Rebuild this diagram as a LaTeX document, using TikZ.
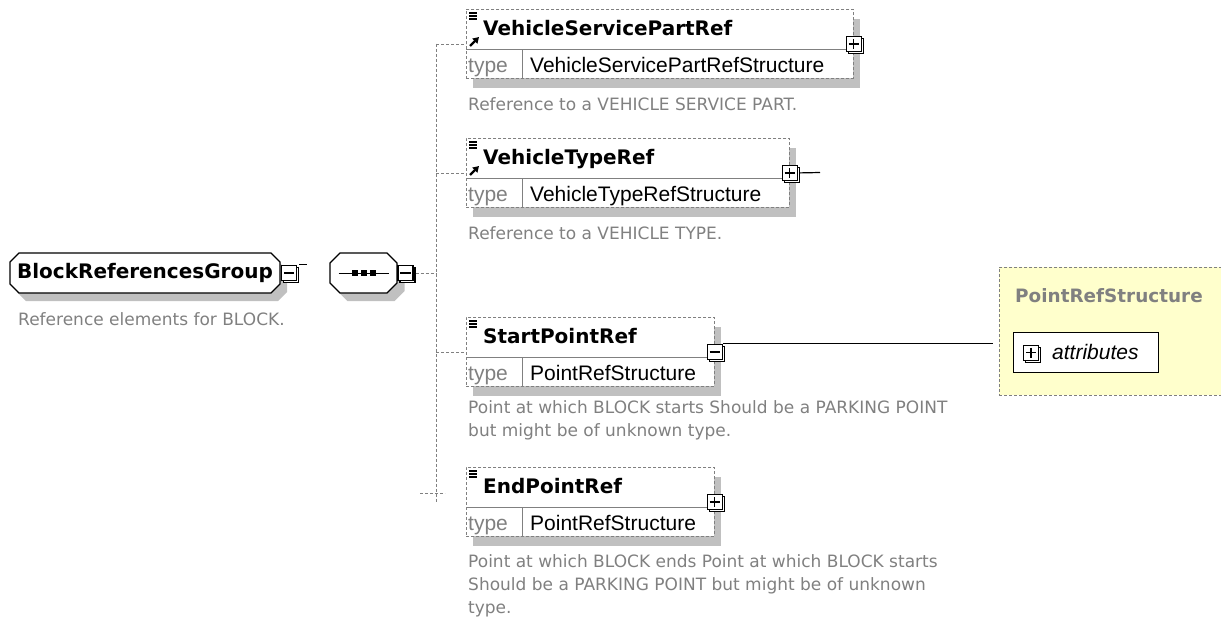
\documentclass[tikz,border=0pt]{standalone}
\usepackage{fontspec}
\setmainfont{Liberation Sans}
\newfontfamily\namefont{DejaVu Sans}
\newfontfamily\descfont{DejaVu Sans}
\usetikzlibrary{arrows.meta,positioning}
\definecolor{ShadowGray}{RGB}{192,192,192}
\definecolor{LineGray}{RGB}{128,128,128}
\definecolor{TypeYellow}{RGB}{255,255,204}

% element box: id, x, y, width, name, type
\newcommand{\xsdelement}[6]{%
  \fill[ShadowGray] (#2+7,#3+10) rectangle (#2+#4+7,#3+79);
  \node[elembox, minimum width=#4pt, anchor=north west] (#1) at (#2,#3) {};
  \draw[rowline] (#2,#3+40) -- (#2+#4,#3+40);
  \draw[rowline] (#2+56,#3+40) -- (#2+56,#3+69);
  \foreach \dy in {4,7,10} {\draw[line width=1.1pt] (#2+3,#3+\dy) -- (#2+11,#3+\dy);}
  \node[elemname, anchor=base west] (#1-name) at (#2+17,#3+26) {#5};
  \node[typelabel, anchor=base west] (#1-label) at (#2+2,#3+63) {type};
  \node[typename, anchor=base west] (#1-type) at (#2+64,#3+63) {#6};
}
% reference arrow icon: x, y of the box
\newcommand{\refarrow}[2]{%
  \draw[line width=2.4pt, -{Triangle[length=6pt, width=7pt]}] (#1+4,#2+37) -- (#1+13,#2+28);
}
% expand button: name, position, 1 = plus
\newcommand{\expander}[3]{%
  \node[expbox, xshift=2pt, yshift=-2pt] at (#2) {};
  \node[expbox] (#1) at (#2) {};
  \draw[line width=1.2pt] ([xshift=3pt]#1.west) -- ([xshift=-3pt]#1.east);
  \ifnum#3=1 \draw[line width=1.2pt] ([yshift=-3pt]#1.north) -- ([yshift=3pt]#1.south);\fi
}
% cut-corner outline round a node: node, cut, path style
\newcommand{\octagon}[3]{%
  \path[#3] ([xshift=#2pt]#1.north west) -- ([xshift=-#2pt]#1.north east)
    -- ([yshift=-#2pt]#1.north east) -- ([yshift=#2pt]#1.south east)
    -- ([xshift=-#2pt]#1.south east) -- ([xshift=#2pt]#1.south west)
    -- ([yshift=#2pt]#1.south west) -- ([yshift=-#2pt]#1.north west) -- cycle;
}

\begin{document}
\begin{tikzpicture}[x=1pt, y=-1pt,
    elembox/.style={draw=LineGray, densely dashed, line width=0.8pt, fill=white, minimum height=69pt, inner sep=0pt},
    rowline/.style={draw=LineGray, line width=0.8pt},
    elemname/.style={font=\namefont\bfseries\fontsize{20}{24}\selectfont, inner sep=0pt},
    typelabel/.style={font=\fontsize{21}{25}\selectfont, text=LineGray, inner sep=0pt},
    typename/.style={font=\fontsize{21}{25}\selectfont, inner sep=0pt},
    desc/.style={font=\descfont\fontsize{17}{23}\selectfont, text=LineGray, inner sep=0pt, align=left},
    expbox/.style={draw, line width=1.2pt, fill=white, minimum size=15pt, inner sep=0pt},
    groupshape/.style={rectangle, minimum height=40pt, inner sep=0pt, outer sep=0pt},
    groupline/.style={draw, line width=1.3pt, fill=white},
    connector/.style={draw=LineGray, line width=0.8pt, densely dashed},
    link/.style={draw, line width=1.2pt}
]
\useasboundingbox (0,0) rectangle (1221,619);
\clip (0,0) rectangle (1221,619);

% group reference
\node[groupshape, minimum width=270pt] (brg-sh) at (152,281) {};
\node[groupshape, minimum width=270pt] (brg) at (145,273) {};
\octagon{brg-sh}{9}{fill=ShadowGray}
\octagon{brg}{9}{groupline}
\node[elemname] (brg-name) at (brg.center) {BlockReferencesGroup};
\expander{brg-x}{[xshift=9pt]brg.east}{0}
\draw[line width=1pt] ([xshift=2pt]brg-x.north east) -- ([xshift=10pt]brg-x.north east);
\node[desc, anchor=base west] (brg-desc) at (18,325) {Reference elements for BLOCK.};

% sequence
\node[groupshape, minimum width=67pt] (seq-sh) at (371,281) {};
\node[groupshape, minimum width=67pt] (seq) at (363.5,273) {};
\octagon{seq-sh}{10}{fill=ShadowGray}
\octagon{seq}{10}{groupline}
\draw[line width=1pt] ([xshift=-25pt]seq.center) -- ([xshift=25pt]seq.center);
\foreach \dx in {-9,0,9}
    \node[fill, minimum size=6pt, inner sep=0pt] at ([xshift=\dx pt]seq.center) {};
\expander{seq-x}{[xshift=8.5pt]seq.east}{0}

\coordinate (trunk-top) at (436,43.5);
\coordinate (trunk-bot) at (436,502);
\draw[connector] (trunk-top) -- (trunk-bot);
\draw[connector] ([xshift=2pt]seq-x.east) -- (seq-x.east -| trunk-top);

% elements
\xsdelement{vspr}{466}{9}{387}{VehicleServicePartRef}{VehicleServicePartRefStructure}
\refarrow{466}{9}
\expander{vspr-x}{vspr.east}{1}
\node[desc, anchor=base west] (vspr-desc) at (468,110) {Reference to a VEHICLE SERVICE PART.};

\xsdelement{vtr}{466}{138}{323}{VehicleTypeRef}{VehicleTypeRefStructure}
\refarrow{466}{138}
\expander{vtr-x}{vtr.east}{1}
\coordinate (vtr-end) at (820,172.5);
\draw[link] ([xshift=2pt]vtr-x.east) -- (vtr-end);
\node[desc, anchor=base west] (vtr-desc) at (468,239) {Reference to a VEHICLE TYPE.};

\xsdelement{spr}{466}{317}{248}{StartPointRef}{PointRefStructure}
\expander{spr-x}{spr.east}{0}
\node[desc, anchor=north west] (spr-desc) at (468,400) {Point at which BLOCK starts Should be a PARKING POINT\\but might be of unknown type.};

\xsdelement{epr}{466}{467}{248}{EndPointRef}{PointRefStructure}
\expander{epr-x}{epr.east}{1}
\node[desc, anchor=north west] (epr-desc) at (468,554) {Point at which BLOCK ends Point at which BLOCK starts\\Should be a PARKING POINT but might be of unknown\\type.};

\foreach \el in {vspr,vtr,spr}
    \draw[connector] (\el.west -| trunk-top) -- (\el.west);
\coordinate (epr-tick-a) at (420,493);
\coordinate (epr-tick-b) at (445,493);
\draw[connector] (epr-tick-a) -- (epr-tick-b);

% complex type
\node[draw=LineGray, densely dashed, line width=0.8pt, fill=TypeYellow, minimum width=240pt, minimum height=128pt, anchor=north west, inner sep=0pt] (prs) at (999,267) {};
\node[font=\namefont\bfseries\fontsize{18.4}{22}\selectfont, text=LineGray, anchor=base west, inner sep=0pt] (prs-title) at (1015,302) {PointRefStructure};
\node[draw, line width=1.2pt, fill=white, minimum width=145pt, minimum height=40pt, anchor=north west, inner sep=0pt] (prs-attr) at (1013,332) {};
\expander{prs-attr-x}{[xshift=18pt]prs-attr.west}{1}
\node[font=\itshape\fontsize{21}{25}\selectfont, anchor=base west, inner sep=0pt] (prs-attr-name) at (1052,359) {attributes};
\draw[link, shorten >=6pt] (spr-x.north east) -- (spr-x.north east -| prs.west);
\end{tikzpicture}
\end{document}
